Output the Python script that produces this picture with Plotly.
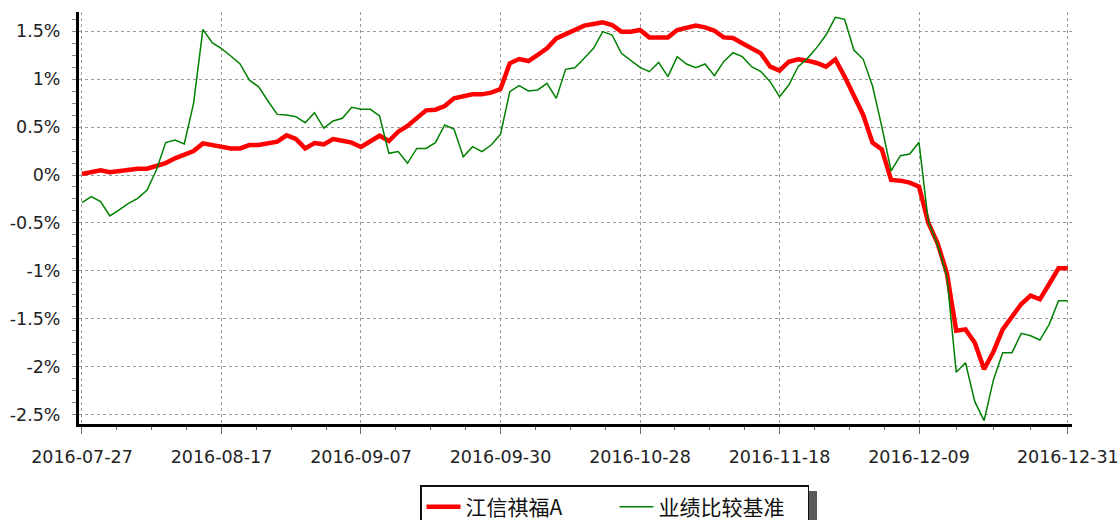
import pandas as pd
import plotly.graph_objects as go

# ---- data -------------------------------------------------------------
start_date = "2016-07-27"
end_date = "2016-12-30"
holidays = ["2016-09-15", "2016-09-16", "2016-10-03", "2016-10-04",
            "2016-10-05", "2016-10-06", "2016-10-07"]
extra_dates = ["2016-12-31"]

tick_labels = ["2016-07-27", "2016-08-17", "2016-09-07", "2016-09-30",
               "2016-10-28", "2016-11-18", "2016-12-09", "2016-12-31"]

y_tick_vals = [-2.5, -2.0, -1.5, -1.0, -0.5, 0.0, 0.5, 1.0, 1.5]
y_tick_text = ["-2.5%", "-2%", "-1.5%", "-1%", "-0.5%", "0%", "0.5%", "1%", "1.5%"]

fund_name = "江信祺福A"
bench_name = "业绩比较基准"

fund = [0.01, 0.03, 0.05, 0.03, 0.045, 0.05, 0.066, 0.066, 0.094, 0.125,
        0.174, 0.21, 0.25, 0.33, 0.313, 0.296, 0.278, 0.278, 0.313, 0.313,
        0.33, 0.348, 0.414, 0.376, 0.278, 0.334, 0.32, 0.376, 0.358, 0.338,
        0.292, 0.348, 0.41, 0.355, 0.452, 0.512, 0.59, 0.675, 0.682, 0.72,
        0.80, 0.825, 0.842, 0.842, 0.86, 0.898, 1.166, 1.211, 1.19, 1.253,
        1.323, 1.427, 1.472, 1.51, 1.56, 1.577, 1.594, 1.566, 1.497, 1.497,
        1.514, 1.437, 1.437, 1.437, 1.514, 1.542, 1.56, 1.542, 1.507, 1.437,
        1.43, 1.375, 1.323, 1.27, 1.131, 1.09, 1.183, 1.208, 1.194, 1.17,
        1.131, 1.208, 1.027, 0.825, 0.627, 0.338, 0.268, -0.052, -0.059, -0.08,
        -0.122, -0.498, -0.714, -1.027, -1.625, -1.612, -1.751, -2.029, -1.845, -1.612,
        -1.486, -1.347, -1.26, -1.298, -1.138, -0.975, -0.975]

bench = [-0.289, -0.226, -0.278, -0.428, -0.365, -0.296, -0.244, -0.157, 0.052, 0.338,
         0.365, 0.324, 0.748, 1.521, 1.382, 1.32, 1.243, 1.16, 0.99, 0.92,
         0.773, 0.633, 0.627, 0.609, 0.546, 0.651, 0.49, 0.564, 0.592, 0.707,
         0.686, 0.686, 0.616, 0.226, 0.244, 0.122, 0.278, 0.278, 0.338, 0.522,
         0.48, 0.191, 0.296, 0.244, 0.313, 0.425, 0.87, 0.933, 0.877, 0.888,
         0.957, 0.80, 1.103, 1.12, 1.218, 1.323, 1.497, 1.462, 1.27, 1.20,
         1.124, 1.079, 1.176, 1.027, 1.236, 1.159, 1.12, 1.159, 1.037, 1.183,
         1.277, 1.236, 1.131, 1.079, 0.975, 0.818, 0.94, 1.131, 1.218, 1.33,
         1.462, 1.646, 1.625, 1.305, 1.208, 0.929, 0.505, 0.042, 0.202, 0.219,
         0.341, -0.487, -0.731, -1.062, -2.06, -1.96, -2.367, -2.565, -2.14, -1.855,
         -1.855, -1.653, -1.678, -1.723, -1.559, -1.312, -1.312]

# trading-day categories
days = [d.strftime("%Y-%m-%d") for d in pd.bdate_range(start_date, end_date)]
dates = [d for d in days if d not in holidays] + extra_dates
x_idx = list(range(len(dates)))
tick_idx = [dates.index(t) for t in tick_labels]
minor_idx = []
for a, b in zip(tick_idx[:-1], tick_idx[1:]):
    minor_idx += [a + (b - a) * k / 4 for k in (1, 2, 3)]

# ---- layout constants --------------------------------------------------
W, H = 1120, 520
ML, MR, MT, MB = 79, 48, 12, 96
PW, PH = W - ML - MR, H - MT - MB
FONT = "Liberation Sans, Arial, Noto Sans CJK SC, sans-serif"

fig = go.Figure()
fig.add_trace(go.Scatter(x=x_idx, y=fund, name=fund_name, mode="lines",
                         line=dict(color="#FF0000", width=4.5)))
fig.add_trace(go.Scatter(x=x_idx, y=bench, name=bench_name, mode="lines",
                         line=dict(color="#008000", width=1.5)))

def px_to_paper_x(px):
    return (px - ML) / PW

def px_to_paper_y(py):
    return (H - MB - py) / PH

# legend shadow
fig.add_shape(type="rect", xref="paper", yref="paper",
              x0=px_to_paper_x(426), x1=px_to_paper_x(817),
              y0=px_to_paper_y(545), y1=px_to_paper_y(491),
              fillcolor="#5a5a5a", line=dict(width=0), layer="above")

fig.update_layout(
    width=W, height=H,
    margin=dict(l=ML, r=MR, t=MT, b=MB, pad=0, autoexpand=False),
    paper_bgcolor="white", plot_bgcolor="white",
    font=dict(family=FONT, size=18, color="#222"),
    showlegend=True,
    legend=dict(orientation="h", xref="container", yref="container",
                x=420 / W, y=(H - 485) / H, xanchor="left", yanchor="top",
                bgcolor="white", bordercolor="#111", borderwidth=1.5,
                font=dict(family="Noto Sans CJK SC, Liberation Sans, sans-serif", size=21, color="#111"),
                itemwidth=34, entrywidth=144, entrywidthmode="pixels",
                traceorder="normal"),
    hovermode=False,
)

fig.update_xaxes(
    range=[-0.32, 106.45], tickmode="array", tickvals=tick_idx, ticktext=tick_labels,
    automargin=False,
    showline=True, linecolor="black", linewidth=3,
    ticks="outside", ticklen=7, tickcolor="#666", tickwidth=1,
    showgrid=True, gridcolor="#999", griddash="dot", gridwidth=1,
    zeroline=False, ticklabelstandoff=8,
    tickfont=dict(family="DejaVu Sans, sans-serif", size=17.5, color="#222"),
    minor=dict(tickvals=minor_idx, ticks="outside", ticklen=3, tickcolor="#666", showgrid=False),
)
fig.update_yaxes(
    range=[-2.60, 1.702], tickmode="array", tickvals=y_tick_vals, ticktext=y_tick_text,
    automargin=False,
    showline=True, linecolor="black", linewidth=3,
    ticks="outside", ticklen=4, tickcolor="#888", tickwidth=1,
    showgrid=True, gridcolor="#999", griddash="dot", gridwidth=1,
    zeroline=False, ticklabelstandoff=8,
    tickfont=dict(family="DejaVu Sans, sans-serif", size=17.5, color="#222"),
    minor=dict(dtick=0.125, tick0=0, ticks="outside", ticklen=4, tickcolor="#888", showgrid=False),
)

fig.write_html("out.html", config={"displayModeBar": False},
               post_script="document.body.style.margin='0';document.body.style.overflow='hidden';")
